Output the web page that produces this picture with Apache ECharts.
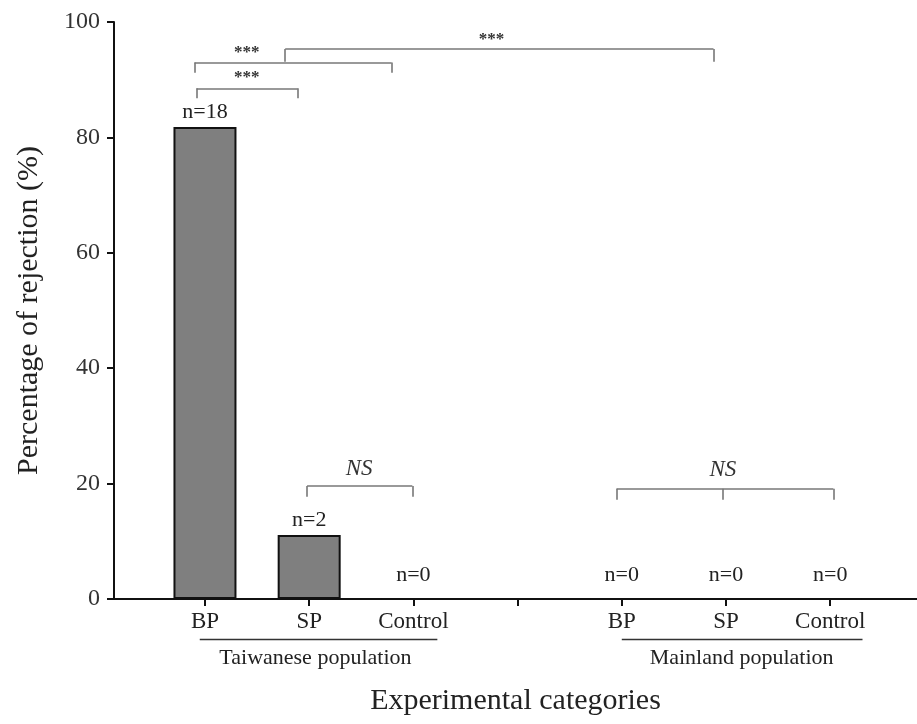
<!DOCTYPE html>
<html><head><meta charset="utf-8">
<script src="https://cdn.jsdelivr.net/npm/echarts@6/dist/echarts.min.js"></script>
<style>html,body{margin:0;padding:0;background:#fff}#c{width:917px;height:724px}</style>
</head><body><div id="c"></div>
<script>
const categories = ['BP','SP','Control','','BP','SP','Control'];
const positions = [1,2,3,4,5,6,7];
const rejection = [81.8, 11.1, 0, null, 0, 0, 0];
const counts = ['n=18','n=2','n=0','','n=0','n=0','n=0'];
const yTicks = [0,20,40,60,80,100];
// brackets: [xs of legs], top y, leg-bottom y, label, label x, label y
const brackets = [
  {xs:[0.92,1.89], top:88.5, leg:86.8, text:'***', tx:1.40, ty:90.3},
  {xs:[0.90,2.79], top:93.0, leg:91.2, text:'***', tx:1.40, ty:94.7},
  {xs:[1.77,5.88], top:95.3, leg:93.1, text:'***', tx:3.75, ty:96.9},
  {xs:[1.98,2.99], top:19.6, leg:17.7, text:'NS', tx:2.48, ty:22.6},
  {xs:[4.95,5.97,7.03], top:19.1, leg:17.2, text:'NS', tx:5.97, ty:22.3}
];
const groupNames = ['Taiwanese population','Mainland population'];
const groupSpans = [[0.95,3.23],[5.0,7.31]];
const groupCenters = [2.06, 6.15];

const serif = '"Liberation Serif","DejaVu Serif",serif';
const chart = echarts.init(document.getElementById('c'));

const lineData = [];
const pointData = [];
brackets.forEach(b => {
  const lo = b.xs[0], hi = b.xs[b.xs.length-1];
  lineData.push([{coord:[lo,b.top]},{coord:[hi,b.top]}]);
  b.xs.forEach(x => {
    lineData.push([{coord:[x,b.top]},{coord:[x,b.leg]}]);
  });
  const isNS = b.text === 'NS';
  pointData.push({coord:[b.tx,b.ty], value:b.text,
    label:{fontStyle: isNS?'italic':'normal', fontWeight: isNS?'normal':'bold', fontSize: isNS?23:17}});
});

const barData = positions.map((p,i) => rejection[i]===null ? null : {
  value:[p, rejection[i]],
  label:{formatter: counts[i], offset: rejection[i]===0 ? [0,-8] : [0,0]}
}).filter(d=>d);

chart.setOption({
  animation:false,
  grid:{left:114, right:0, top:22, bottom:125},
  xAxis:{
    type:'value', min:0.127, max:7.833,
    name:'Experimental categories', nameLocation:'middle', nameGap:87,
    nameTextStyle:{fontFamily:serif, fontSize:30, color:'#222', verticalAlign:'top'},
    splitLine:{show:false},
    axisLine:{show:true, lineStyle:{color:'#111', width:2}},
    axisTick:{show:true, length:7, lineStyle:{color:'#111', width:2}, customValues:positions},
    axisLabel:{customValues:positions.filter((p,i)=>categories[i]!==''), formatter:v=>categories[Math.round(v)-1],
      color:'#222', fontFamily:serif, fontSize:23, margin:11}
  },
  yAxis:{
    type:'value', min:0, max:100, interval:20,
    name:'Percentage of rejection (%)', nameLocation:'middle', nameGap:70,
    nameTextStyle:{fontFamily:serif, fontSize:30, color:'#222'},
    splitLine:{show:false},
    axisLine:{show:true, lineStyle:{color:'#111', width:2}},
    axisTick:{show:true, length:7, lineStyle:{color:'#111', width:2}},
    axisLabel:{color:'#333', fontFamily:serif, fontSize:24, margin:14,
      customValues:yTicks}
  },
  series:[{
    type:'bar', barWidth:63,
    data:barData,
    itemStyle:{color:'#7f7f7f', borderColor:'#111', borderWidth:2},
    label:{show:true, position:'top', distance:4, fontFamily:serif, fontSize:22, color:'#222'},
    markLine:{silent:true, symbol:['none','none'], label:{show:false},
      lineStyle:{color:'#777', width:1.6, type:'solid'}, data:lineData},
    markPoint:{silent:true, symbol:'circle', symbolSize:0,
      label:{show:true, position:'inside', color:'#333', fontFamily:serif, formatter:p=>p.value},
      data:pointData}
  }]
});

const gfx = [];
groupNames.forEach((n,i) => {
  const a = chart.convertToPixel({gridIndex:0}, [groupSpans[i][0], -7.0]);
  const b = chart.convertToPixel({gridIndex:0}, [groupSpans[i][1], -7.0]);
  const t = chart.convertToPixel({gridIndex:0}, [groupCenters[i], -10.3]);
  gfx.push({type:'line', shape:{x1:a[0], y1:a[1], x2:b[0], y2:b[1]}, style:{stroke:'#333', lineWidth:1.5}});
  gfx.push({type:'text', x:t[0], y:t[1], style:{text:n, fontFamily:serif, fontSize:22, fill:'#222', align:'center', verticalAlign:'middle'}});
});
chart.setOption({graphic:gfx});
</script></body></html>
